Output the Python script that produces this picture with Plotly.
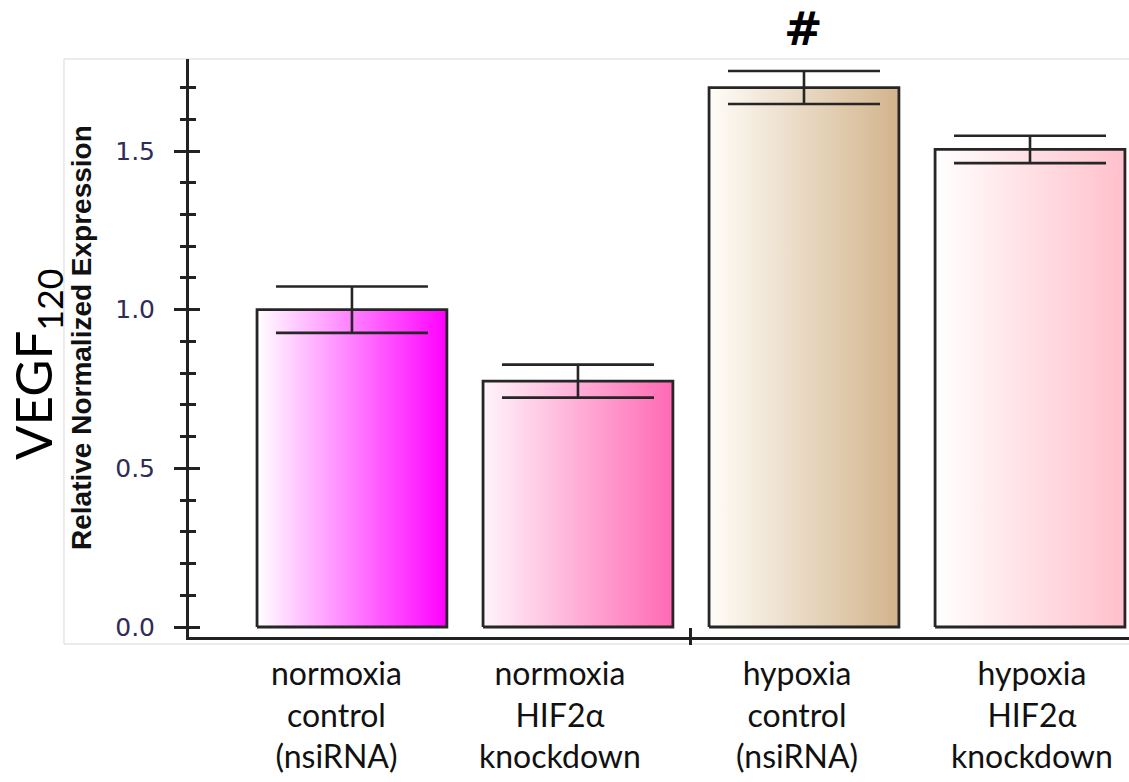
import plotly.graph_objects as go

# Relative normalized VEGF120 expression per condition
categories = [
    "normoxia<br>control<br>(nsiRNA)",
    "normoxia<br>HIF2α<br>knockdown",
    "hypoxia<br>control<br>(nsiRNA)",
    "hypoxia<br>HIF2α<br>knockdown",
]
values = [1.00, 0.775, 1.70, 1.505]
errors = [0.073, 0.052, 0.052, 0.043]
significance = ["", "", "#", ""]
y_ticks = [0.0, 0.5, 1.0, 1.5]
y_ticklabels = ["0.0", "0.5", "1.0", "1.5"]

# gradient end colours (left -> right) for each bar
grad_left = ["#ffffff", "#fff4fa", "#fffdf8", "#ffffff"]
grad_right = ["#ff00ff", "#ff69b4", "#d2b48c", "#ffc0cb"]
# small horizontal nudges (px) of the category captions
label_shift = [-15, -18, -7, 2]

BAR_W = 0.84
OUTLINE = "#262626"
AXIS = "#222222"
Y_RANGE = [-0.0315, 1.79]
X_RANGE = [0.279, 4.438]

positions = list(range(1, len(values) + 1))

fig = go.Figure()

# bars as filled outlines with a horizontal gradient
for pos, val, cl, cr in zip(positions, values, grad_left, grad_right):
    left, right = pos - BAR_W / 2, pos + BAR_W / 2
    fig.add_trace(go.Scatter(
        x=[left, left, right, right, left],
        y=[0, val, val, 0, 0],
        mode="lines",
        fill="toself",
        fillgradient=dict(type="horizontal", colorscale=[[0, cl], [1, cr]]),
        line=dict(color=OUTLINE, width=2.8),
        hoverinfo="skip",
        showlegend=False,
    ))

# error bars (on the overlay axes, which carry the second half of each tick)
fig.add_trace(go.Scatter(
    x=positions,
    y=values,
    xaxis="x2",
    yaxis="y2",
    mode="markers",
    marker=dict(size=1, opacity=0),
    error_y=dict(type="data", array=errors, symmetric=True,
                 color=OUTLINE, thickness=2.6, width=76),
    hoverinfo="skip",
    showlegend=False,
))

# significance markers above bars
for pos, mark in zip(positions, significance):
    if mark:
        fig.add_annotation(
            x=pos, y=1.052, xref="x", yref="paper",
            text=f"<b>{mark}</b>", showarrow=False,
            font=dict(family="DejaVu Sans", size=46, color="#000000"),
            xanchor="center", yanchor="middle",
        )

# category captions under the axis
for pos, cat, dx in zip(positions, categories, label_shift):
    fig.add_annotation(
        x=pos, y=-0.025, xref="x", yref="paper",
        text=cat, showarrow=False, xshift=dx,
        font=dict(family="Lato", size=32, color="#111111"),
        xanchor="center", yanchor="top",
    )

# axis titles
fig.add_annotation(
    x=-0.1617, y=0.4706, xref="paper", yref="paper",
    text="VEGF<sub>120</sub>", textangle=-90, showarrow=False,
    font=dict(family="Lato", size=51, color="#000000"),
    xanchor="center", yanchor="middle",
)
fig.add_annotation(
    x=-0.1149, y=0.519, xref="paper", yref="paper",
    text="<b>Relative Normalized Expression</b>", textangle=-90, showarrow=False,
    font=dict(family="Liberation Sans", size=28, color="#111111"),
    xanchor="center", yanchor="middle",
)

# light frame around the graph area
fig.add_shape(type="rect", xref="paper", yref="paper",
              x0=-0.133, x1=1.02, y0=-0.0121, y1=1.0,
              line=dict(color="#d9d9d9", width=1), layer="below")

tick_font = dict(family="DejaVu Sans", size=25, color="#302c58")

fig.update_layout(
    width=1129, height=782,
    margin=dict(l=189, r=0, t=59, b=145),
    paper_bgcolor="white", plot_bgcolor="white",
    showlegend=False,
    xaxis=dict(
        range=X_RANGE, tickvals=[2.5], ticktext=[""],
        ticks="inside", ticklen=9, tickwidth=2.5, tickcolor=AXIS,
        showticklabels=False, showgrid=False, zeroline=False,
        showline=True, linecolor=AXIS, linewidth=3,
    ),
    xaxis2=dict(
        range=X_RANGE, overlaying="x", anchor="y", side="bottom",
        tickvals=[2.5], ticks="outside", ticklen=7, tickwidth=2.5,
        tickcolor=AXIS, showticklabels=False, showgrid=False,
        zeroline=False, showline=False,
    ),
    yaxis=dict(
        range=Y_RANGE, tickvals=y_ticks, ticktext=y_ticklabels,
        ticks="outside", ticklen=12, tickwidth=2.5, tickcolor=AXIS,
        minor=dict(ticks="outside", ticklen=6, tickwidth=2.5,
                   tickcolor=AXIS, dtick=0.1, tick0=0, showgrid=False),
        showgrid=False, zeroline=False,
        showline=True, linecolor=AXIS, linewidth=3,
        tickfont=tick_font, ticklabelstandoff=14,
    ),
    yaxis2=dict(
        range=Y_RANGE, overlaying="y", anchor="x", side="left",
        tickvals=y_ticks, ticks="inside", ticklen=11, tickwidth=2.5,
        tickcolor=AXIS,
        minor=dict(ticks="inside", ticklen=7, tickwidth=2.5,
                   tickcolor=AXIS, dtick=0.1, tick0=0, showgrid=False),
        showticklabels=False, showgrid=False, zeroline=False, showline=False,
    ),
)

fig.write_html("out.html")
